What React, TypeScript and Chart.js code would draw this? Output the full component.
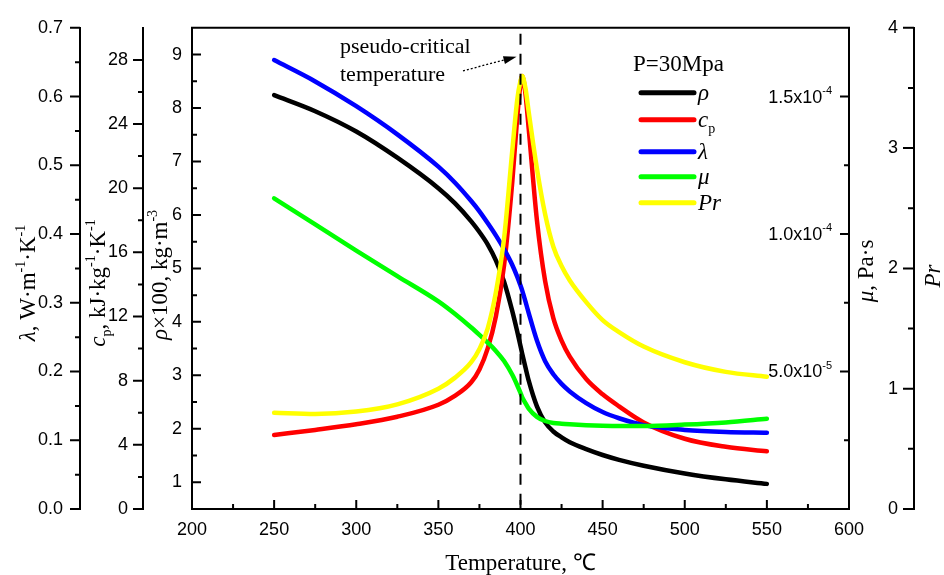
import React, { useEffect, useRef } from 'react';
import { Chart, registerables } from 'chart.js';

Chart.register(...registerables);

// ---------------- data ----------------
const temperature = [250, 275, 300, 325, 350, 360, 370, 375, 380, 385, 390, 395, 398, 400, 401, 403, 405, 410, 415, 420, 425, 430, 440, 450, 460, 475, 500, 525, 550];
// density ×100 (kg·m^-3 / 100)
const density = [8.24, 7.94, 7.56, 7.07, 6.5, 6.22, 5.88, 5.68, 5.45, 5.15, 4.75, 4.2, 3.82, 3.55, 3.41, 3.15, 2.9, 2.42, 2.12, 1.95, 1.84, 1.75, 1.62, 1.51, 1.42, 1.31, 1.165, 1.055, 0.97];
// specific heat, kJ·kg^-1·K^-1
const specificHeat = [4.62, 4.93, 5.28, 5.75, 6.5, 7.05, 7.9, 8.7, 10.0, 12.0, 15.2, 20.4, 24.4, 26.5, 27.0, 25.9, 23.7, 18.0, 14.2, 11.9, 10.5, 9.5, 8.1, 7.15, 6.4, 5.4, 4.38, 3.88, 3.6];
// thermal conductivity, W·m^-1·K^-1
const conductivity = [0.653, 0.622, 0.586, 0.545, 0.498, 0.475, 0.448, 0.433, 0.416, 0.398, 0.378, 0.355, 0.338, 0.325, 0.318, 0.302, 0.285, 0.245, 0.215, 0.196, 0.182, 0.171, 0.154, 0.141, 0.132, 0.122, 0.115, 0.112, 0.111];
// dynamic viscosity, Pa·s
const viscosity = [11.3e-5, 10.35e-5, 9.4e-5, 8.47e-5, 7.55e-5, 7.1e-5, 6.6e-5, 6.33e-5, 6.05e-5, 5.75e-5, 5.38e-5, 4.88e-5, 4.5e-5, 4.22e-5, 4.07e-5, 3.85e-5, 3.65e-5, 3.35e-5, 3.2e-5, 3.13e-5, 3.1e-5, 3.08e-5, 3.05e-5, 3.03e-5, 3.02e-5, 3.02e-5, 3.07e-5, 3.15e-5, 3.28e-5];
// Prandtl number
const prandtl = [0.8, 0.79, 0.81, 0.87, 1.0, 1.09, 1.22, 1.33, 1.5, 1.8, 2.25, 2.98, 3.4, 3.56, 3.6, 3.5, 3.3, 2.83, 2.45, 2.18, 2.02, 1.9, 1.72, 1.57, 1.47, 1.35, 1.22, 1.14, 1.1];

const pressureLabel = 'P=30Mpa';
const pseudoCriticalTemperature = 400;
const annotationLines = ['pseudo-critical', 'temperature'];
const xTitle = 'Temperature, ℃';

// axis ranges and ticks
const temperatureRange = [200, 600];
const temperatureTicks = [200, 250, 300, 350, 400, 450, 500, 550, 600];
const temperatureMinorTicks = [225, 275, 325, 375, 425, 475, 525, 575];
const densityRange = [0.5, 9.5];
const densityTicks = [1, 2, 3, 4, 5, 6, 7, 8, 9];
const densityMinorTicks = [1.5, 2.5, 3.5, 4.5, 5.5, 6.5, 7.5, 8.5];
const specificHeatRange = [0, 30];
const specificHeatTicks = [0, 4, 8, 12, 16, 20, 24, 28];
const specificHeatMinorTicks = [2, 6, 10, 14, 18, 22, 26];
const conductivityRange = [0, 0.7];
const conductivityTicks = [0, 0.1, 0.2, 0.3, 0.4, 0.5, 0.6, 0.7];
const conductivityMinorTicks = [0.05, 0.15, 0.25, 0.35, 0.45, 0.55, 0.65];
const viscosityRange = [0, 1.75e-4];
const viscosityTicks = [5e-5, 1e-4, 1.5e-4];
const viscosityTickMantissas = ['5.0x10', '1.0x10', '1.5x10'];
const viscosityTickExponents = ['-5', '-4', '-4'];
const viscosityMinorTicks = [2.5e-5, 7.5e-5, 1.25e-4];
const prandtlRange = [0, 4];
const prandtlTicks = [0, 1, 2, 3, 4];
const prandtlMinorTicks = [0.5, 1.5, 2.5, 3.5];

// ---------------- styling helpers ----------------
const SERIF = '"Liberation Serif", "Times New Roman", Times, serif';
const SANS = 'Arial, "Liberation Sans", Helvetica, sans-serif';
const TITLE_SIZE = 23;
const TICK_SIZE = 18;

type Seg = { t: string; italic?: boolean; sub?: boolean; sup?: boolean };

function segFont(s: Seg, size: number) {
  const sz = s.sub || s.sup ? Math.round(size * 0.6) : size;
  return `${s.italic ? 'italic ' : ''}${sz}px ${SERIF}`;
}

function drawRich(ctx: CanvasRenderingContext2D, segs: Seg[], x: number, y: number, size: number, rotate: boolean, align: 'left' | 'center') {
  ctx.save();
  ctx.translate(x, y);
  if (rotate) ctx.rotate(-Math.PI / 2);
  let total = 0;
  for (const s of segs) {
    ctx.font = segFont(s, size);
    total += ctx.measureText(s.t).width;
  }
  let cx = align === 'center' ? -total / 2 : 0;
  ctx.textAlign = 'left';
  ctx.textBaseline = 'alphabetic';
  ctx.fillStyle = '#000';
  for (const s of segs) {
    ctx.font = segFont(s, size);
    const dy = s.sup ? -size * 0.42 : s.sub ? size * 0.28 : 0;
    ctx.fillText(s.t, cx, dy);
    cx += ctx.measureText(s.t).width;
  }
  ctx.restore();
}

const fixedTicks = (values: number[]) => (scale: any) => {
  scale.ticks = values.map((v) => ({ value: v }));
};

const series = (values: number[]) => temperature.map((t, i) => ({ x: t, y: values[i] }));

const decorPlugin = {
  id: 'decor',
  afterDraw(chart: any) {
    const ctx: CanvasRenderingContext2D = chart.ctx;
    const ca = chart.chartArea;
    const s = chart.scales;
    ctx.save();
    ctx.strokeStyle = '#000';
    ctx.fillStyle = '#000';

    // top frame line
    ctx.lineWidth = 2;
    ctx.beginPath();
    ctx.moveTo(ca.left - 1, ca.top);
    ctx.lineTo(ca.right + 1, ca.top);
    ctx.stroke();

    // tick marks (major and minor)
    const ticksV = (scale: any, values: number[], dx: number) => {
      const bx = Math.round(scale.position === 'left' ? scale.right : scale.left);
      ctx.beginPath();
      for (const v of values) {
        const py = scale.getPixelForValue(v);
        ctx.moveTo(bx, py);
        ctx.lineTo(bx + dx, py);
      }
      ctx.stroke();
    };
    const ticksH = (values: number[], len: number) => {
      const by = Math.round(s.x.top);
      ctx.beginPath();
      for (const v of values) {
        const px = s.x.getPixelForValue(v);
        ctx.moveTo(px, by);
        ctx.lineTo(px, by - len);
      }
      ctx.stroke();
    };
    ctx.lineWidth = 2;
    ticksV(s.lam, conductivityTicks, -10);
    ticksV(s.lam, conductivityMinorTicks, -5);
    ticksV(s.cp, specificHeatTicks, -10);
    ticksV(s.cp, specificHeatMinorTicks, -5);
    ticksV(s.rho, densityTicks, 9);
    ticksV(s.rho, densityMinorTicks, 5);
    ticksV(s.mu, viscosityTicks, -9);
    ticksV(s.mu, viscosityMinorTicks, -5);
    ticksV(s.pr, prandtlTicks, -11);
    ticksV(s.pr, prandtlMinorTicks, -6);
    ticksH(temperatureTicks, 9);
    ticksH(temperatureMinorTicks, 5);

    // viscosity tick labels (inside the plot)
    ctx.textBaseline = 'middle';
    ctx.textAlign = 'left';
    viscosityTicks.forEach((v, i) => {
      const py = s.mu.getPixelForValue(v);
      ctx.font = `${TICK_SIZE}px ${SANS}`;
      const wm = ctx.measureText(viscosityTickMantissas[i]).width;
      ctx.font = `11px ${SANS}`;
      const we = ctx.measureText(viscosityTickExponents[i]).width;
      const right = s.mu.left - 17;
      ctx.font = `${TICK_SIZE}px ${SANS}`;
      ctx.fillText(viscosityTickMantissas[i], right - we - wm, py + 1);
      ctx.font = `11px ${SANS}`;
      ctx.fillText(viscosityTickExponents[i], right - we, py - 6);
    });

    // Prandtl tick labels (left of its axis line)
    ctx.textAlign = 'right';
    ctx.font = `${TICK_SIZE}px ${SANS}`;
    prandtlTicks.forEach((v) => {
      ctx.fillText(String(v), s.pr.left - 16, s.pr.getPixelForValue(v));
    });

    // axis titles
    drawRich(ctx, [{ t: xTitle }], (ca.left + ca.right) / 2, s.x.bottom - 5, TITLE_SIZE, false, 'center');
    drawRich(ctx, [{ t: 'λ', italic: true }, { t: ', W·m' }, { t: '-1', sup: true }, { t: '·K' }, { t: '-1', sup: true }], s.lam.left + 35, 283, TITLE_SIZE, true, 'center');
    drawRich(ctx, [{ t: 'c', italic: true }, { t: 'p', sub: true }, { t: ', kJ·kg' }, { t: '-1', sup: true }, { t: '·K' }, { t: '-1', sup: true }], s.cp.left + 25, 283, TITLE_SIZE, true, 'center');
    drawRich(ctx, [{ t: 'ρ', italic: true }, { t: '×100, kg·m' }, { t: '-3', sup: true }], s.rho.left + 24, 275, TITLE_SIZE, true, 'center');
    drawRich(ctx, [{ t: 'μ', italic: true }, { t: ', Pa·s' }], s.mu.left + 24, 271, TITLE_SIZE, true, 'center');
    drawRich(ctx, [{ t: 'Pr', italic: true }], s.pr.left + 26, 276, TITLE_SIZE, true, 'center');

    // legend
    drawRich(ctx, [{ t: pressureLabel }], ca.left + 441, ca.top + 43, TITLE_SIZE, false, 'left');
    const legendRows: { ds: number; segs: Seg[]; dy: number }[] = [
      { ds: 1, segs: [{ t: 'ρ', italic: true }], dy: 65 },
      { ds: 2, segs: [{ t: 'c', italic: true }, { t: 'p', sub: true }], dy: 92 },
      { ds: 3, segs: [{ t: 'λ', italic: true }], dy: 124 },
      { ds: 4, segs: [{ t: 'μ', italic: true }], dy: 149 },
      { ds: 5, segs: [{ t: 'Pr', italic: true }], dy: 175 },
    ];
    for (const row of legendRows) {
      const y = ca.top + row.dy;
      ctx.strokeStyle = chart.data.datasets[row.ds].borderColor;
      ctx.lineWidth = 5;
      ctx.lineCap = 'round';
      ctx.beginPath();
      ctx.moveTo(ca.left + 449, y);
      ctx.lineTo(ca.left + 502, y);
      ctx.stroke();
      drawRich(ctx, row.segs, ca.left + 506, y + 7, TITLE_SIZE, false, 'left');
    }

    // annotation
    drawRich(ctx, [{ t: annotationLines[0] }], ca.left + 148, ca.top + 25, TITLE_SIZE - 1, false, 'left');
    drawRich(ctx, [{ t: annotationLines[1] }], ca.left + 148, ca.top + 53, TITLE_SIZE - 1, false, 'left');
    const tipX = s.x.getPixelForValue(pseudoCriticalTemperature) - 4;
    const tipY = ca.top + 29;
    const sx = ca.left + 271;
    const sy = ca.top + 43;
    const ang = Math.atan2(tipY - sy, tipX - sx);
    const hl = 13;
    const bx = tipX - hl * Math.cos(ang);
    const by = tipY - hl * Math.sin(ang);
    ctx.strokeStyle = '#000';
    ctx.lineCap = 'butt';
    ctx.lineWidth = 1.3;
    ctx.setLineDash([2, 2]);
    ctx.beginPath();
    ctx.moveTo(sx, sy);
    ctx.lineTo(bx, by);
    ctx.stroke();
    ctx.setLineDash([]);
    ctx.beginPath();
    ctx.moveTo(tipX, tipY);
    ctx.lineTo(bx + 4 * Math.sin(ang), by - 4 * Math.cos(ang));
    ctx.lineTo(bx - 4 * Math.sin(ang), by + 4 * Math.cos(ang));
    ctx.closePath();
    ctx.fill();

    ctx.restore();
  },
};

const lineStyle = {
  borderWidth: 4.5,
  pointRadius: 0,
  fill: false,
  cubicInterpolationMode: 'monotone' as const,
  borderCapStyle: 'round' as const,
  borderJoinStyle: 'round' as const,
};

const axisBorder = { display: true, color: '#000', width: 2 };
const tickFont = { family: SANS, size: TICK_SIZE };
const noGrid = { drawOnChartArea: false, drawTicks: false, tickLength: 0 };

export default function App() {
  const ref = useRef<HTMLCanvasElement>(null);

  useEffect(() => {
    document.body.style.margin = '0';
    const canvas = ref.current;
    if (!canvas) return;
    const chart = new Chart(canvas, {
      type: 'line',
      data: {
        datasets: [
          {
            label: 'pseudo-critical temperature',
            data: [
              { x: pseudoCriticalTemperature, y: densityRange[1] },
              { x: pseudoCriticalTemperature, y: densityRange[0] },
            ],
            yAxisID: 'rho',
            borderColor: '#000',
            borderWidth: 2,
            borderDash: [11, 9],
            borderDashOffset: 14,
            pointRadius: 0,
            order: -1,
          },
          { label: 'ρ', data: series(density), yAxisID: 'rho', borderColor: '#000000', order: 4, ...lineStyle },
          { label: 'cp', data: series(specificHeat), yAxisID: 'cp', borderColor: '#ff0000', order: 3, ...lineStyle },
          { label: 'λ', data: series(conductivity), yAxisID: 'lam', borderColor: '#0000ff', order: 2, ...lineStyle },
          { label: 'μ', data: series(viscosity), yAxisID: 'mu', borderColor: '#00ff00', order: 1, ...lineStyle },
          { label: 'Pr', data: series(prandtl), yAxisID: 'pr', borderColor: '#ffff00', order: 0, ...lineStyle },
        ],
      },
      options: {
        responsive: false,
        maintainAspectRatio: false,
        animation: false,
        devicePixelRatio: 1,
        events: [],
        layout: { padding: { top: 20, left: 0, right: 0, bottom: 0 } },
        plugins: { legend: { display: false }, tooltip: { enabled: false }, title: { display: false } },
        scales: {
          x: {
            type: 'linear',
            position: 'bottom',
            min: temperatureRange[0],
            max: temperatureRange[1],
            afterBuildTicks: fixedTicks(temperatureTicks),
            afterFit: (sc: any) => { sc.height = 66; },
            grid: noGrid,
            border: axisBorder,
            ticks: { color: '#000', font: tickFont, padding: 10, maxRotation: 0, autoSkip: false, callback: (v: any) => String(v) },
          },
          lam: {
            type: 'linear',
            position: 'left',
            weight: 3,
            min: conductivityRange[0],
            max: conductivityRange[1],
            afterBuildTicks: fixedTicks(conductivityTicks),
            afterFit: (sc: any) => { sc.width = 80; },
            grid: noGrid,
            border: axisBorder,
            ticks: { color: '#000', font: tickFont, padding: 17, autoSkip: false, callback: (v: any) => Number(v).toFixed(1) },
          },
          cp: {
            type: 'linear',
            position: 'left',
            weight: 2,
            min: specificHeatRange[0],
            max: specificHeatRange[1],
            afterBuildTicks: fixedTicks(specificHeatTicks),
            afterFit: (sc: any) => { sc.width = 63; },
            grid: noGrid,
            border: axisBorder,
            ticks: { color: '#000', font: tickFont, padding: 15, autoSkip: false, callback: (v: any) => String(v) },
          },
          rho: {
            type: 'linear',
            position: 'left',
            weight: 1,
            min: densityRange[0],
            max: densityRange[1],
            afterBuildTicks: fixedTicks(densityTicks),
            afterFit: (sc: any) => { sc.width = 49; },
            grid: noGrid,
            border: axisBorder,
            ticks: { color: '#000', font: tickFont, padding: 10, autoSkip: false, callback: (v: any) => String(v) },
          },
          mu: {
            type: 'linear',
            position: 'right',
            weight: 1,
            min: viscosityRange[0],
            max: viscosityRange[1],
            afterBuildTicks: fixedTicks(viscosityTicks),
            afterFit: (sc: any) => { sc.width = 65; },
            grid: noGrid,
            border: axisBorder,
            ticks: { display: false },
          },
          pr: {
            type: 'linear',
            position: 'right',
            weight: 2,
            min: prandtlRange[0],
            max: prandtlRange[1],
            afterBuildTicks: fixedTicks(prandtlTicks),
            afterFit: (sc: any) => { sc.width = 30; },
            grid: noGrid,
            border: axisBorder,
            ticks: { display: false },
          },
        },
      } as any,
      plugins: [decorPlugin],
    });
    return () => chart.destroy();
  }, []);

  return (
    <div style={{ width: 944, height: 575, background: '#fff' }}>
      <canvas ref={ref} width={944} height={575} style={{ display: 'block' }} />
    </div>
  );
}
